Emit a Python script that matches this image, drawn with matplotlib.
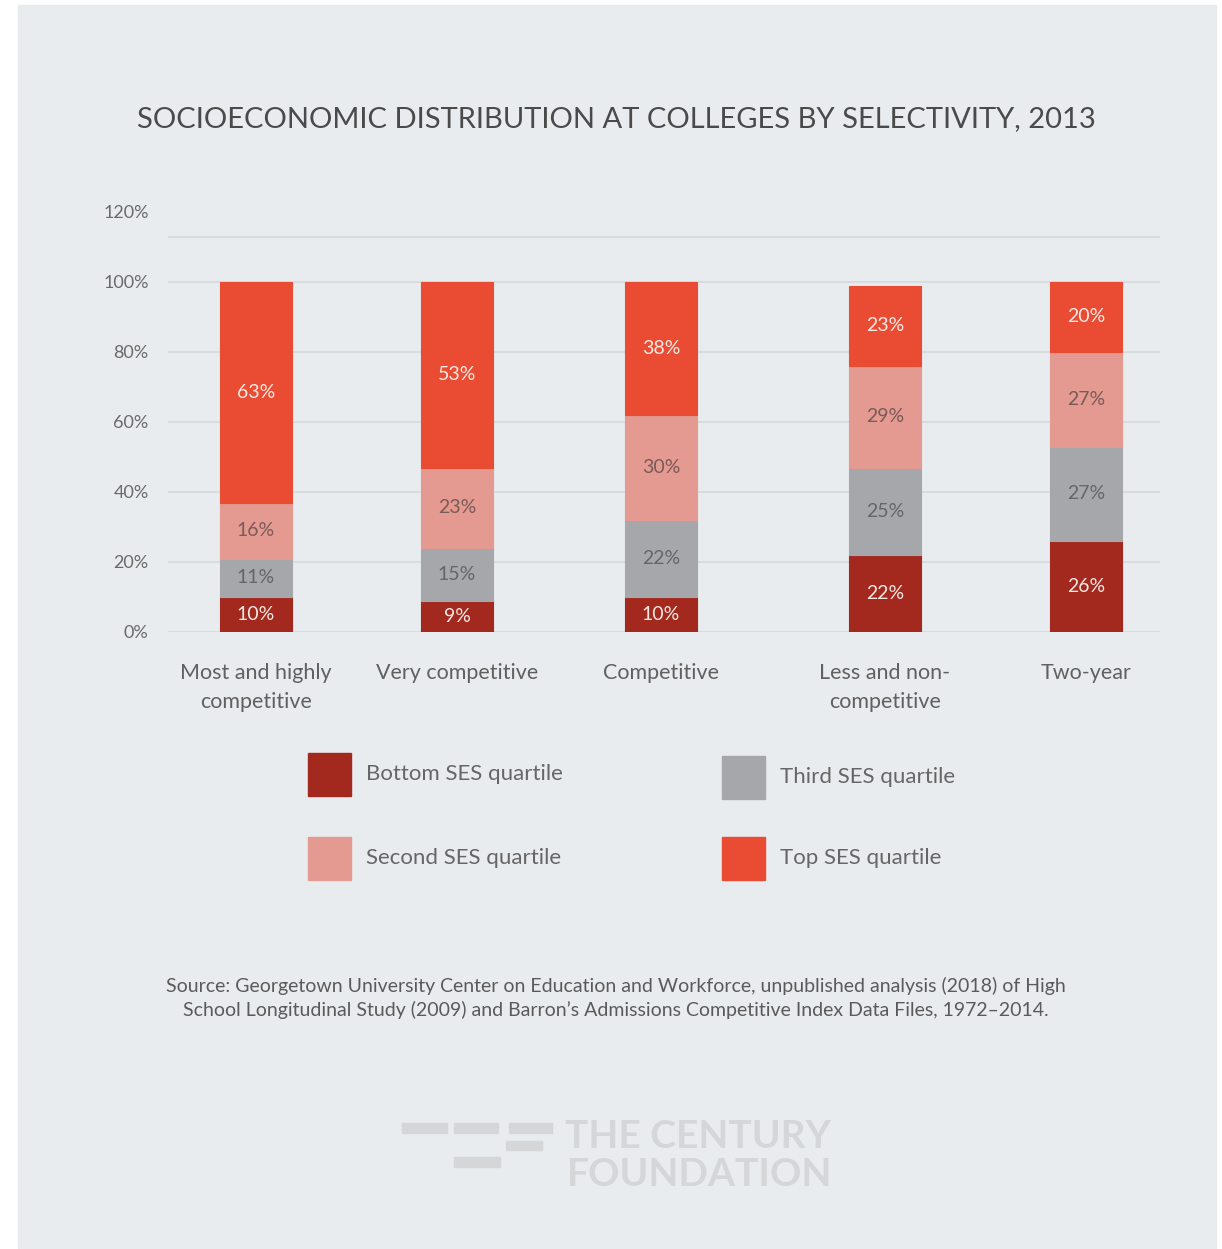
import numpy as np
import matplotlib.pyplot as plt
from matplotlib.patches import Rectangle

plt.rcParams['font.family'] = ['Lato', 'DejaVu Sans']

# data
categories = ["Most and highly\ncompetitive", "Very competitive", "Competitive",
              "Less and non-\ncompetitive", "Two-year"]
bottom_q = [10, 9, 10, 22, 26]
third_q = [11, 15, 22, 25, 27]
second_q = [16, 23, 30, 29, 27]
top_q = [63, 53, 38, 23, 20]
series_names = ["Bottom SES quartile", "Third SES quartile", "Second SES quartile", "Top SES quartile"]
y_ticks = [0, 20, 40, 60, 80, 100, 120]

# bar centres are not evenly spaced in the original
x = np.array([0, 0.969, 1.952, 3.031, 4.0])

colors = ["#a3281e", "#a6a7ab", "#e49a91", "#e94c32"]
label_colors = ["#f6e8e4", "#66666a", "#7a5a58", "#fbeae5"]
bg = "#e9ecee"

fig = plt.figure(figsize=(12.22, 12.49), dpi=100)
W, H = 1222, 1249

# gray panel
fig.patches.append(Rectangle((18 / W, 1 - 1248 / H), (1216 - 18) / W, (1248 - 5) / H,
                             transform=fig.transFigure, color=bg, zorder=-5))

ax = fig.add_axes([168 / W, 1 - 632 / H, (1160 - 168) / W, 420 / H])
ax.set_facecolor("none")
width = 0.347

stack = [bottom_q, third_q, second_q, top_q]
base = np.zeros(len(categories))
for vals, col, lc in zip(stack, colors, label_colors):
    vals = np.array(vals, dtype=float)
    ax.bar(x, vals, width, bottom=base, color=col, edgecolor=col, linewidth=0.8, zorder=3)
    for xi, b, v in zip(x, base, vals):
        ax.text(xi, b + v / 2, f"{int(v)}%", ha="center", va="center", fontsize=14,
                color=lc, zorder=4)
    base += vals

ax.set_xlim(-0.424, 4.357)
ax.set_ylim(0, 120)
for s in ax.spines.values():
    s.set_visible(False)

# gridlines (top one sits a bit under the 120% label, as in the original)
for g in [0, 20, 40, 60, 80, 100, 113]:
    ax.axhline(g, color="#d9dcdf", linewidth=1.5, zorder=1)

ax.set_yticks(y_ticks)
ax.set_yticklabels([f"{t}%" for t in y_ticks], fontsize=13, color="#6a6a6a")
ax.tick_params(axis="y", length=0, pad=14)
ax.set_xticks(x)
ax.set_xticklabels(categories, fontsize=15.5, color="#606060", linespacing=1.6)
ax.tick_params(axis="x", length=0, pad=22)

fig.text(616 / W, 1 - 119 / H, "SOCIOECONOMIC DISTRIBUTION AT COLLEGES BY SELECTIVITY, 2013",
         ha="center", va="center", fontsize=21, color="#4a4a4a")

# legend
leg_pos = [(308, 753), (722, 756), (308, 837), (722, 837)]
for (lx, ly), name, col in zip(leg_pos, series_names, colors):
    fig.patches.append(Rectangle((lx / W, 1 - (ly + 43) / H), 43 / W, 43 / H,
                                 transform=fig.transFigure, color=col, zorder=2))
    fig.text((lx + 58) / W, 1 - (ly + 21) / H, name, ha="left", va="center",
             fontsize=16, color="#666666")

fig.text(616 / W, 1 - 998 / H,
         "Source: Georgetown University Center on Education and Workforce, unpublished analysis (2018) of High\n"
         "School Longitudinal Study (2009) and Barron\u2019s Admissions Competitive Index Data Files, 1972\u20132014.",
         ha="center", va="center", fontsize=14, color="#5a5a5a", linespacing=1.45)

# logo
logo_col = "#d4d6d8"
for rx, ry, rw, rh in [(402, 1123, 45, 10), (454, 1123, 44, 10), (509, 1123, 43, 10),
                       (506, 1141, 36, 9), (454, 1157, 46, 10)]:
    fig.patches.append(Rectangle((rx / W, 1 - (ry + rh) / H), rw / W, rh / H,
                                 transform=fig.transFigure, color=logo_col, zorder=2))
fig.text(698 / W, 1 - 1137 / H, "THE CENTURY", ha="center", va="center", fontsize=28,
         color=logo_col, fontweight="bold")
fig.text(700 / W, 1 - 1174 / H, "FOUNDATION", ha="center", va="center", fontsize=28,
         color=logo_col, fontweight="bold")

fig.savefig("out.png", dpi=100, facecolor="white")
